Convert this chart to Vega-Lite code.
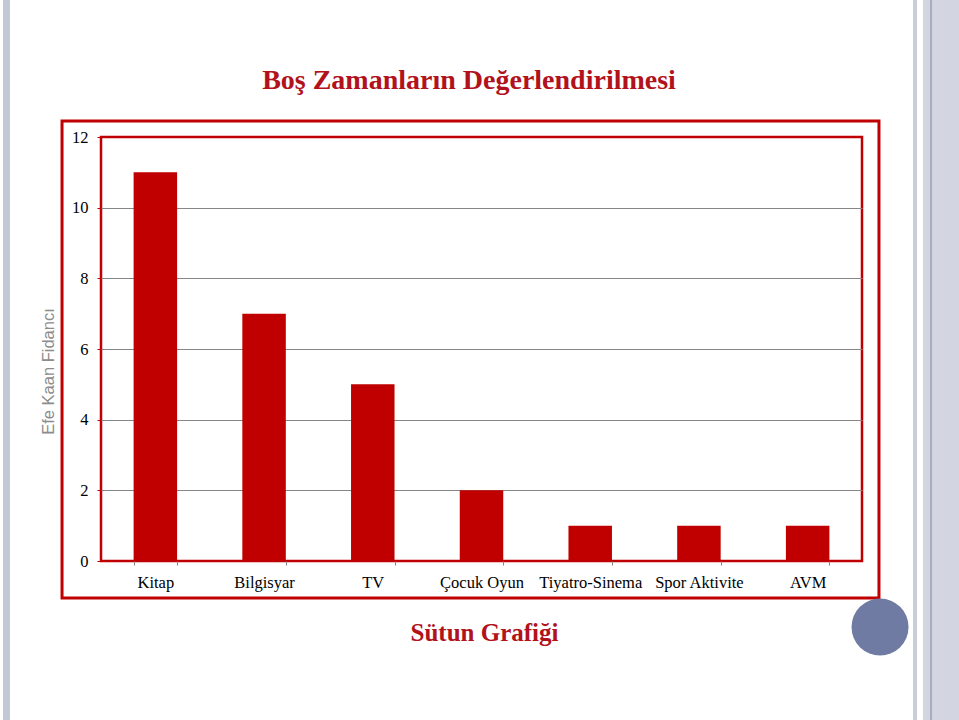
{
  "$schema": "https://vega.github.io/schema/vega-lite/v6.json",
  "autosize": "none",
  "width": 761,
  "height": 424,
  "padding": {"left": 101, "top": 137, "right": 97, "bottom": 159},
  "background": "#ffffff",
  "config": {
    "view": {"stroke": "#C00000", "strokeWidth": 2.5},
    "axis": {"labelFont": "Liberation Serif", "labelFontSize": 16.5, "labelColor": "#000000"}
  },
  "resolve": {"scale": {"x": "independent", "y": "independent"}},
  "layer": [
    {
      "data": {"values": [{"part": "left stripe"}]},
      "mark": {"type": "rect", "clip": false, "color": "#C3C8D6"},
      "encoding": {
        "x": {"datum": -0.1288, "type": "quantitative", "scale": {"domain": [0, 1]}, "axis": null},
        "x2": {"datum": -0.1196},
        "y": {"datum": 15.93, "type": "quantitative", "scale": {"domain": [0, 12]}, "axis": null},
        "y2": {"datum": -4.557}
      }
    },
    {
      "data": {"values": [{"part": "right stripe"}]},
      "mark": {"type": "rect", "clip": false, "color": "#C9CDD9"},
      "encoding": {
        "x": {"datum": 1.0670, "type": "quantitative", "scale": {"domain": [0, 1]}, "axis": null},
        "x2": {"datum": 1.0723},
        "y": {"datum": 15.93, "type": "quantitative", "scale": {"domain": [0, 12]}, "axis": null},
        "y2": {"datum": -4.557}
      }
    },
    {
      "data": {"values": [{"part": "right band"}]},
      "mark": {"type": "rect", "clip": false, "color": "#D3D6E1"},
      "encoding": {
        "x": {"datum": 1.0801, "type": "quantitative", "scale": {"domain": [0, 1]}, "axis": null},
        "x2": {"datum": 1.1288},
        "y": {"datum": 15.93, "type": "quantitative", "scale": {"domain": [0, 12]}, "axis": null},
        "y2": {"datum": -4.557}
      }
    },
    {
      "data": {"values": [{"part": "right line"}]},
      "mark": {"type": "rect", "clip": false, "color": "#A6ACC2"},
      "encoding": {
        "x": {"datum": 1.0894, "type": "quantitative", "scale": {"domain": [0, 1]}, "axis": null},
        "x2": {"datum": 1.0920},
        "y": {"datum": 15.93, "type": "quantitative", "scale": {"domain": [0, 12]}, "axis": null},
        "y2": {"datum": -4.557}
      }
    },
    {
      "data": {"values": [{"part": "outer frame"}]},
      "mark": {"type": "rect", "clip": false, "fill": "#ffffff", "fillOpacity": 0, "stroke": "#C00000", "strokeWidth": 3},
      "encoding": {
        "x": {"datum": -0.0512, "type": "quantitative", "scale": {"domain": [0, 1]},
          "axis": {"orient": "top", "title": "Boş Zamanların Değerlendirilmesi", "labels": false, "ticks": false, "domain": false, "grid": false,
            "titleFont": "Liberation Serif", "titleFontSize": 28, "titleFontWeight": "bold", "titleColor": "#B2121B",
            "titleAlign": "center", "titleBaseline": "alphabetic", "titleAngle": 0, "titleX": 367.5, "titleY": -49}},
        "x2": {"datum": 1.0223},
        "y": {"datum": 12.453, "type": "quantitative", "scale": {"domain": [0, 12]}, "axis": null},
        "y2": {"datum": -1.047}
      }
    },
    {
      "data": {"values": [
        {"category": "Kitap", "count": 11},
        {"category": "Bilgisyar", "count": 7},
        {"category": "TV", "count": 5},
        {"category": "Çocuk Oyun", "count": 2},
        {"category": "Tiyatro-Sinema", "count": 1},
        {"category": "Spor Aktivite", "count": 1},
        {"category": "AVM", "count": 1}
      ]},
      "mark": {"type": "bar", "color": "#C00000"},
      "encoding": {
        "x": {"field": "category", "type": "nominal", "sort": null,
          "scale": {"paddingInner": 0.6, "paddingOuter": 0.3},
          "axis": {"labelAngle": 0, "domain": false, "ticks": true, "tickBand": "extent", "tickColor": "#868686", "tickSize": 4, "labelPadding": 9,
            "title": "Sütun Grafiği", "titleFont": "Liberation Serif", "titleFontSize": 25, "titleFontWeight": "bold", "titleColor": "#B2121B",
            "titleBaseline": "alphabetic", "titleAlign": "center", "titleX": 383, "titleY": 79}},
        "y": {"field": "count", "type": "quantitative", "scale": {"domain": [0, 12]},
          "axis": {"values": [0, 2, 4, 6, 8, 10, 12], "domain": false, "tickColor": "#C00000", "tickSize": 4, "labelPadding": 9,
            "grid": true, "gridColor": {"condition": {"test": "datum.value == 0 || datum.value == 12", "value": "transparent"}, "value": "#868686"}, "gridWidth": 1,
            "title": "Efe Kaan Fidancı", "titleFont": "Liberation Sans", "titleFontSize": 16.5, "titleFontWeight": "normal", "titleColor": "#8C8C8C",
            "titleAngle": -90, "titleAlign": "center", "titleBaseline": "middle", "titleX": -53, "titleY": 234}}
      }
    },
    {
      "data": {"values": [{"part": "circle"}]},
      "mark": {"type": "point", "clip": false, "shape": "circle", "filled": true, "color": "#6F7BA3", "opacity": 1, "size": 3249},
      "encoding": {
        "x": {"datum": 1.0237, "type": "quantitative", "scale": {"domain": [0, 1]}, "axis": null},
        "y": {"datum": -1.868, "type": "quantitative", "scale": {"domain": [0, 12]}, "axis": null}
      }
    }
  ]
}
